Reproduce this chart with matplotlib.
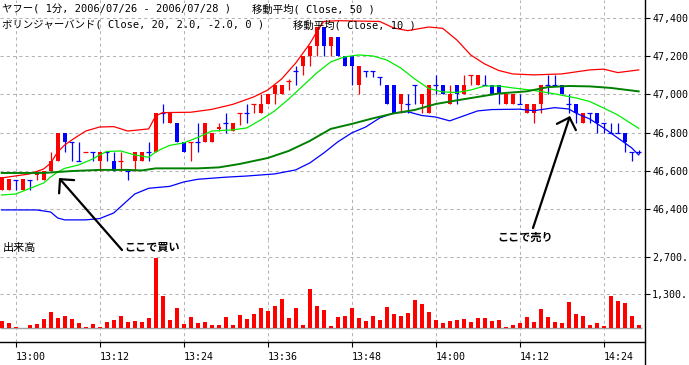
import matplotlib
matplotlib.use("Agg")
import matplotlib.pyplot as plt
from matplotlib.lines import Line2D

W, H = 689, 365
MONO = ["DejaVu Sans Mono", "Noto Sans CJK JP"]
JP = ["Noto Sans CJK JP", "DejaVu Sans"]

# ---------------- data (minute index relative to 13:00) ----------------
minutes = list(range(-2, 90))
opens = [46500, 46500, 46550, 46500, 46550, 46580, 46550, 46600, 46650, 46800,
         46750, 46650, 46700, 46700, 46650, 46700, 46650, 46650, 46600, 46650,
         46650, 46700, 46700, 46900, 46850, 46850, 46750, 46750, 46750, 46750,
         46750, 46820, 46850, 46810, 46900, 46900, 46950, 46900, 46950, 47000,
         47000, 47070, 47120, 47150, 47200, 47250, 47350, 47250, 47300, 47200,
         47200, 47050, 47120, 47120, 47090, 47050, 47050, 46950, 46950, 47050,
         46950, 46900, 47050, 47050, 46950, 47050, 47000, 47100, 47050, 47050,
         47050, 47050, 46950, 46950, 46950, 46900, 46900, 46950, 47050, 47050,
         47050, 46950, 46950, 46850, 46900, 46900, 46850, 46800, 46800, 46800,
         46700, 46700]
highs = [46570, 46560, 46550, 46560, 46550, 46600, 46600, 46700, 46800, 46800,
         46750, 46750, 46700, 46700, 46700, 46700, 46700, 46700, 46600, 46700,
         46700, 46750, 46900, 46950, 46900, 46850, 46750, 46750, 46850, 46850,
         46800, 46850, 46900, 46850, 46900, 46950, 46950, 47000, 47000, 47050,
         47050, 47080, 47150, 47200, 47250, 47350, 47350, 47300, 47300, 47200,
         47200, 47150, 47120, 47120, 47090, 47050, 47050, 47000, 47000, 47050,
         47000, 47050, 47100, 47050, 47050, 47050, 47100, 47100, 47100, 47100,
         47050, 47050, 47000, 47000, 47000, 46950, 46950, 47050, 47100, 47100,
         47050, 47000, 46950, 46900, 46900, 46900, 46850, 46850, 46850, 46800,
         46700, 46710]
lows = [46500, 46500, 46500, 46500, 46500, 46550, 46550, 46600, 46650, 46700,
        46650, 46650, 46700, 46650, 46600, 46650, 46600, 46600, 46550, 46600,
        46650, 46650, 46700, 46850, 46850, 46750, 46700, 46650, 46700, 46750,
        46750, 46810, 46800, 46810, 46840, 46850, 46900, 46900, 46950, 46950,
        47000, 47020, 47050, 47100, 47150, 47200, 47200, 47200, 47200, 47150,
        47050, 47000, 47090, 47090, 47050, 46950, 46900, 46900, 46900, 46950,
        46900, 46900, 47000, 47000, 46950, 46950, 47000, 47050, 47050, 47050,
        47000, 46950, 46950, 46950, 46950, 46900, 46850, 46900, 47000, 47050,
        47000, 46900, 46850, 46850, 46850, 46800, 46800, 46800, 46800, 46700,
        46650, 46690]
closes = [46570, 46560, 46550, 46560, 46550, 46590, 46600, 46650, 46800, 46750,
          46750, 46650, 46700, 46700, 46700, 46700, 46600, 46650, 46600, 46700,
          46700, 46700, 46900, 46900, 46900, 46750, 46700, 46750, 46750, 46850,
          46800, 46830, 46850, 46850, 46900, 46900, 46950, 46950, 47000, 47050,
          47050, 47070, 47120, 47200, 47250, 47350, 47250, 47300, 47200, 47150,
          47150, 47150, 47120, 47120, 47090, 46950, 46900, 47000, 46950, 47050,
          47000, 47050, 47050, 47000, 47000, 47000, 47050, 47100, 47100, 47050,
          47000, 47000, 47000, 47000, 46950, 46950, 46950, 47050, 47050, 47050,
          47000, 46950, 46900, 46900, 46900, 46850, 46850, 46800, 46800, 46750,
          46700, 46700]
doji_red = [10, 15, 25, 32, 34, 39, 65]
volumes = [290, 215, 50, 20, 126, 177, 353, 631, 391, 467,
           353, 215, 50, 164, 50, 240, 315, 467, 240, 278,
           240, 391, 2663, 1224, 315, 770, 164, 429, 202, 240,
           126, 126, 429, 126, 505, 353, 543, 770, 656, 846,
           1111, 391, 770, 126, 1489, 846, 694, 88, 429, 467,
           770, 391, 278, 467, 315, 808, 543, 467, 581, 1073,
           921, 618, 315, 202, 278, 315, 353, 240, 391, 391,
           278, 315, 50, 126, 202, 429, 240, 732, 429, 240,
           202, 997, 543, 467, 126, 202, 88, 1224, 1035, 959,
           467, 126]

bb_up_t = [-2, 2, 4, 5, 6, 7, 8, 10, 12, 14, 16, 19, 20, 21, 25, 28, 31, 34, 36, 38,
           40, 42, 43, 44, 46, 52, 54, 56, 59, 61, 63, 65, 67, 69, 71, 74, 78, 82, 84, 86, 89]
bb_up_v = [46563, 46584, 46610, 46641, 46699, 46735, 46761, 46808, 46829, 46831,
           46808, 46819, 46887, 46904, 46906, 46921, 46947, 46986, 47022, 47080,
           47163, 47263, 47325, 47380, 47384, 47380, 47346, 47332, 47351, 47344,
           47284, 47205, 47158, 47124, 47106, 47101, 47106, 47127, 47131, 47113, 47127]
bb_lo_t = [-2, 3, 5, 6, 7, 10, 12, 14, 15, 17, 19, 22, 24, 26, 30, 33, 37, 40, 42, 44,
           46, 48, 50, 52, 54, 56, 58, 60, 62, 64, 66, 68, 72, 74, 77, 79, 80, 82, 84, 86, 88, 89]
bb_lo_v = [46396, 46396, 46385, 46354, 46344, 46344, 46351, 46380, 46413, 46479,
           46509, 46519, 46542, 46556, 46567, 46573, 46584, 46605, 46641, 46693,
           46751, 46798, 46829, 46876, 46902, 46909, 46889, 46881, 46861, 46887,
           46913, 46920, 46922, 46914, 46930, 46923, 46902, 46871, 46824, 46772, 46720, 46683]
ma10_t = [-2, 0, 2, 4, 5, 6, 7, 9, 11, 12, 13, 15, 17, 19, 20, 21, 22, 24, 26, 28,
          31, 33, 35, 37, 39, 41, 43, 45, 47, 49, 51, 53, 55, 57, 59, 61, 63, 65, 67, 69,
          71, 74, 77, 80, 82, 84, 86, 88, 89]
ma10_v = [46474, 46479, 46508, 46537, 46568, 46594, 46613, 46631, 46662, 46683,
          46701, 46704, 46683, 46671, 46699, 46717, 46733, 46746, 46774, 46808,
          46814, 46824, 46866, 46913, 46975, 47043, 47111, 47169, 47195, 47205,
          47200, 47179, 47137, 47080, 47030, 47012, 47009, 47022, 47043, 47043,
          47033, 47020, 47002, 46981, 46962, 46928, 46892, 46845, 46822]
ma50_t = [-2, 4, 8, 12, 16, 18, 20, 26, 29, 32, 36, 39, 42, 45, 48, 51, 54, 57, 60, 63,
          66, 69, 73, 76, 79, 82, 85, 89]
ma50_v = [46589, 46589, 46599, 46605, 46605, 46602, 46613, 46613, 46618, 46636,
          46667, 46704, 46756, 46819, 46845, 46874, 46900, 46918, 46949, 46968,
          46986, 47004, 47015, 47037, 47043, 47041, 47033, 47015]

price_ticks = [46400, 46600, 46800, 47000, 47200, 47400]
price_labels = ["46,400", "46,600", "46,800", "47,000", "47,200", "47,400"]
vol_ticks = [1300, 2700]
vol_labels = ["1,300.", "2,700."]
time_ticks = [0, 12, 24, 36, 48, 60, 72, 84]
time_labels = ["13:00", "13:12", "13:24", "13:36", "13:48", "14:00", "14:12", "14:24"]

title1a = "ヤフー( 1分, 2006/07/26 - 2006/07/28 )"
title1b = "移動平均( Close, 50 )"
title2a = "ボリンジャーバンド( Close, 20, 2.0, -2.0, 0 )"
title2b = "移動平均( Close, 10 )"

# ---------------- layout ----------------
RED, BLUE = "#ff0000", "#0000ff"
LIME, DGREEN = "#00ee00", "#008000"
GRID = "#b4b4b4"

fig = plt.figure(figsize=(W / 100, H / 100), dpi=100)
fig.patch.set_facecolor("white")
axw = 645 / W
axp = fig.add_axes([0, 1 - 240 / H, axw, 240 / H])
axv = fig.add_axes([0, 1 - 342 / H, axw, 102 / H], sharex=axp)
xlim = (-2.243, 89.9)

for ax in (axp, axv):
    ax.set_facecolor("none")
    for s in ax.spines.values():
        s.set_visible(False)
    for t in time_ticks:
        ax.axvline(t, color=GRID, lw=0.75, ls=(0, (3, 3)), zorder=0)

axp.set_xlim(*xlim)
axp.set_ylim(46239, 47492)
axv.set_ylim(-518, 3341)

for p in price_ticks:
    axp.axhline(p, color=GRID, lw=0.75, ls=(0, (3, 3)), zorder=0)
for v in vol_ticks:
    axv.axhline(v, color=GRID, lw=0.75, ls=(0, (3, 3)), zorder=0)

# candles
for m, o, h, l, c in zip(minutes, opens, highs, lows, closes):
    if c > o:
        col = RED
    elif c < o:
        col = BLUE
    else:
        col = RED if m in doji_red else BLUE
    axp.vlines(m, l, h, color=col, lw=0.9, zorder=3)
    if c != o:
        axp.bar(m, abs(c - o), bottom=min(o, c), width=0.62, color=col, lw=0, zorder=3)
    else:
        axp.hlines(o, m - 0.33, m + 0.33, color=col, lw=0.9, zorder=3)

axp.plot(bb_up_t, bb_up_v, color=RED, lw=0.9, zorder=4)
axp.plot(bb_lo_t, bb_lo_v, color=BLUE, lw=0.9, zorder=4)
axp.plot(ma10_t, ma10_v, color=LIME, lw=0.9, zorder=4)
axp.plot(ma50_t, ma50_v, color=DGREEN, lw=1.4, zorder=4)

# volume
axv.bar(minutes, volumes, width=0.62, color=RED, lw=0, zorder=3)
axv.hlines(0, xlim[0], minutes[-1] + 0.4, color="#a0a0a0", lw=1.0, zorder=2)

# ticks
axp.yaxis.tick_right()
axp.set_yticks(price_ticks)
axp.set_yticklabels(price_labels)
axv.yaxis.tick_right()
axv.set_yticks(vol_ticks)
axv.set_yticklabels(vol_labels)
for ax in (axp, axv):
    ax.tick_params(axis="y", direction="out", length=3.6, width=0.8, pad=1.5,
                   labelsize=7.2, colors="black")
    for lbl in ax.get_yticklabels():
        lbl.set_family(MONO)
axp.tick_params(axis="x", bottom=False, labelbottom=False)
axv.set_xticks(time_ticks)
axv.set_xticklabels(time_labels)
axv.tick_params(axis="x", direction="out", length=3.6, width=0.8, pad=3.5,
                labelsize=7.2)
for lbl in axv.get_xticklabels():
    lbl.set_family(MONO)
    lbl.set_horizontalalignment("left")

# frame lines
fig.add_artist(Line2D([axw, axw], [0, 1], transform=fig.transFigure, color="black", lw=1.0))
fig.add_artist(Line2D([0, axw], [1 - 342 / H] * 2, transform=fig.transFigure, color="black", lw=1.0))


def fx(x):
    return x / W


def fy(y):
    return 1 - y / H


# titles
fig.text(fx(2), fy(9), title1a, family=MONO, fontsize=7.5, va="center", ha="left")
fig.text(fx(252), fy(9), title1b, family=MONO, fontsize=7.5, va="center", ha="left")
fig.text(fx(2), fy(25), title2a, family=MONO, fontsize=7.5, va="center", ha="left")
fig.text(fx(293), fy(25), title2b, family=MONO, fontsize=7.5, va="center", ha="left")
fig.text(fx(3), fy(248), "出来高", family=JP, fontsize=8, va="center", ha="left")

# annotations
fig.text(fx(124), fy(247), "ここで買い", family=JP, fontsize=8, fontweight="bold",
         va="center", ha="left")
fig.text(fx(497), fy(237), "ここで売り", family=JP, fontsize=8, fontweight="bold",
         va="center", ha="left")
arrow = dict(arrowstyle="->,head_length=0.6,head_width=0.6", color="black", lw=1.6,
             shrinkA=0, shrinkB=0, mutation_scale=12)
fig.add_artist(matplotlib.patches.FancyArrowPatch(
    (fx(122), fy(250)), (fx(59), fy(178)), transform=fig.transFigure, **arrow))
fig.add_artist(matplotlib.patches.FancyArrowPatch(
    (fx(533), fy(228)), (fx(570), fy(116)), transform=fig.transFigure, **arrow))

fig.savefig("out.png", dpi=100, facecolor="white")
